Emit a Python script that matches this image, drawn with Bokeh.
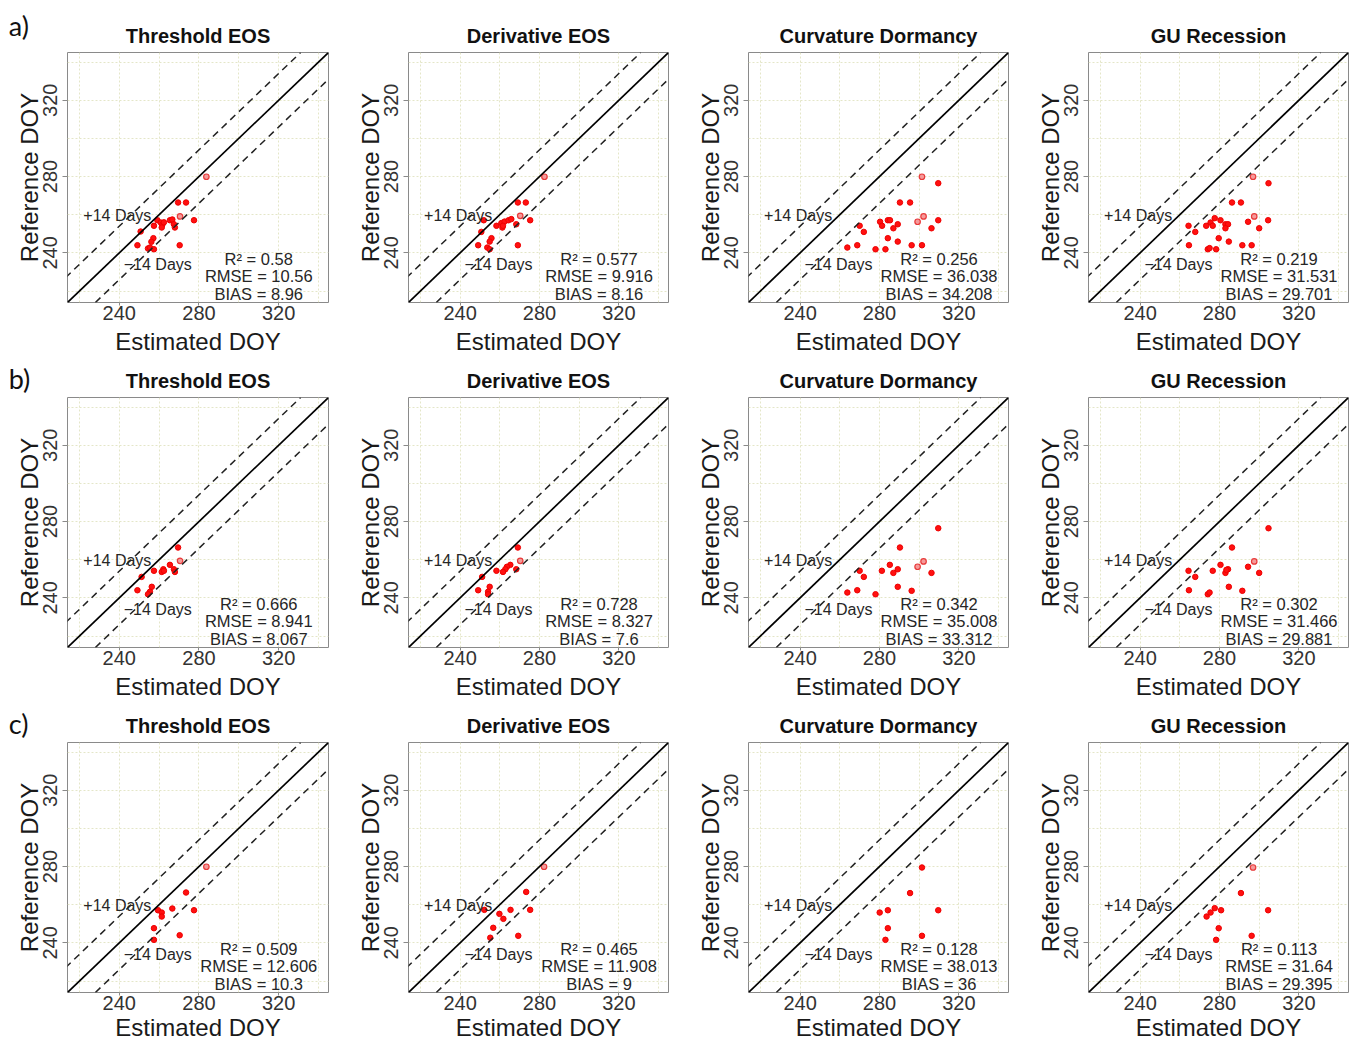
from bokeh.plotting import figure
from bokeh.layouts import gridplot
from bokeh.models import Label, Slope, FixedTicker, Range1d
from bokeh.embed import file_html
from bokeh.resources import INLINE

# ---------------- data ----------------
row_tags = ["a)", "b)", "c)"]
titles = ["Threshold EOS", "Derivative EOS", "Curvature Dormancy", "GU Recession"]
x_ticks = [240, 280, 320]
y_ticks = [240, 280, 320]
grid_ticks = [220, 240, 260, 280, 300, 320, 340]
axis_lo, axis_hi = 214, 345
offset_days = 14

# row a
est_a1 = [269.5, 273.5, 277.5, 259.1, 257.4, 260.8, 261.6, 261.3, 265.4, 266.6, 267.4, 267.9, 250.7, 257.1, 256.1, 249.1, 254.4, 255.4, 257.4, 270.3, 262.4]
ref_a1 = [266.4, 266.4, 257.1, 257.1, 254.2, 255.9, 254.7, 253.3, 257.1, 257.5, 255.0, 253.3, 251.2, 247.7, 245.8, 244.0, 242.3, 242.8, 241.9, 244.0, 256.0]
est_a1_open = [283.7, 270.5]
ref_a1_open = [279.9, 259.1]

est_a2 = [269.1, 273.1, 275.3, 251.9, 258.3, 260.8, 262.4, 264.4, 265.8, 268.3, 261.3, 250.7, 255.8, 254.9, 249.1, 253.7, 254.9, 269.1, 261.6]
ref_a2 = [266.4, 266.4, 257.1, 257.1, 254.2, 255.6, 256.4, 257.1, 257.7, 255.0, 253.3, 251.0, 247.7, 245.9, 244.0, 242.8, 241.9, 244.0, 254.2]
est_a2_open = [282.5, 270.3]
ref_a2_open = [279.9, 259.4]

est_a3 = [309.6, 290.3, 295.4, 309.6, 306.2, 270.0, 272.1, 280.3, 281.3, 284.2, 285.3, 289.2, 287.0, 284.2, 289.2, 263.8, 268.8, 278.0, 283.0, 296.2, 301.4]
ref_a3 = [276.5, 266.4, 266.4, 257.1, 252.9, 254.2, 251.0, 256.3, 254.2, 257.1, 257.1, 255.0, 252.9, 247.7, 245.9, 242.8, 244.0, 241.9, 241.9, 244.0, 244.0]
est_a3_open = [301.4, 302.2, 299.2]
ref_a3_open = [279.9, 259.1, 256.3]

est_a4 = [304.7, 286.3, 290.8, 294.4, 304.5, 300.0, 264.4, 267.8, 273.3, 275.5, 276.6, 277.6, 280.5, 283.0, 284.3, 283.0, 279.6, 284.7, 264.6, 274.1, 275.0, 278.3, 291.5, 296.2]
ref_a4 = [276.5, 266.4, 266.4, 256.3, 257.1, 252.9, 254.2, 251.0, 254.2, 255.9, 254.2, 258.2, 257.1, 255.0, 255.0, 252.9, 247.7, 245.9, 244.0, 241.9, 242.5, 241.9, 244.0, 244.0]
est_a4_open = [296.9, 297.5]
ref_a4_open = [279.9, 259.1]

# row b
est_b1 = [269.5, 265.4, 267.4, 267.9, 262.1, 261.3, 262.4, 257.4, 251.2, 249.1, 256.3, 255.4, 254.4]
ref_b1 = [266.4, 257.3, 255.0, 253.6, 255.0, 253.6, 254.2, 254.2, 251.0, 244.0, 245.8, 243.2, 241.9]
est_b1_open = [270.5]
ref_b1_open = [259.4]

est_b2 = [269.1, 265.3, 263.6, 262.8, 261.6, 258.3, 268.3, 251.1, 249.1, 254.9, 254.1, 254.1]
ref_b2 = [266.4, 257.3, 256.3, 255.0, 253.6, 254.2, 255.0, 251.0, 244.0, 245.8, 243.2, 241.9]
est_b2_open = [270.3]
ref_b2_open = [259.4]

est_b3 = [309.6, 290.3, 306.2, 285.2, 289.2, 287.0, 281.2, 270.0, 272.1, 289.2, 296.2, 263.8, 268.8, 278.0]
ref_b3 = [276.5, 266.4, 253.1, 257.3, 255.0, 253.1, 254.2, 254.2, 251.0, 245.8, 243.7, 242.8, 244.0, 241.9]
est_b3_open = [302.2, 299.2]
ref_b3_open = [259.1, 256.3]

est_b4 = [304.7, 286.3, 294.4, 300.0, 280.5, 284.3, 283.0, 276.6, 264.4, 267.8, 284.7, 291.5, 264.6, 274.1, 275.0, 283.5]
ref_b4 = [276.5, 266.4, 256.3, 253.1, 257.3, 255.0, 253.1, 254.2, 254.2, 251.0, 245.8, 243.7, 244.0, 241.9, 242.8, 254.7]
est_b4_open = [297.5]
ref_b4_open = [259.1]

# row c
est_c1 = [273.5, 277.5, 259.4, 261.3, 261.3, 266.6, 257.4, 257.4, 270.3]
ref_c1 = [266.4, 257.1, 257.1, 255.9, 253.8, 258.0, 247.7, 241.6, 244.0]
est_c1_open = [283.7]
ref_c1_open = [279.9]

est_c2 = [273.3, 275.3, 265.4, 259.8, 261.8, 252.2, 256.7, 255.2, 269.3]
ref_c2 = [266.7, 257.3, 257.3, 255.2, 252.6, 257.3, 247.9, 242.7, 243.7]
est_c2_open = [282.3]
ref_c2_open = [279.9]

est_c3 = [301.4, 295.4, 309.6, 280.1, 284.2, 284.2, 283.0, 301.4]
ref_c3 = [279.5, 266.1, 257.1, 255.9, 257.1, 247.7, 241.6, 243.7]
est_c3_open = []
ref_c3_open = []

est_c4 = [290.8, 304.5, 273.5, 275.5, 277.6, 280.8, 279.6, 278.3, 296.2]
ref_c4 = [266.1, 257.1, 253.8, 255.9, 258.2, 257.1, 247.7, 241.6, 243.7]
est_c4_open = [296.9]
ref_c4_open = [279.5]

r2_vals = [["0.58", "0.577", "0.256", "0.219"],
           ["0.666", "0.728", "0.342", "0.302"],
           ["0.509", "0.465", "0.128", "0.113"]]
rmse_vals = [["10.56", "9.916", "36.038", "31.531"],
             ["8.941", "8.327", "35.008", "31.466"],
             ["12.606", "11.908", "38.013", "31.64"]]
bias_vals = [["8.96", "8.16", "34.208", "29.701"],
             ["8.067", "7.6", "33.312", "29.881"],
             ["10.3", "9", "36", "29.395"]]

panels = [
    [(est_a1, ref_a1, est_a1_open, ref_a1_open), (est_a2, ref_a2, est_a2_open, ref_a2_open),
     (est_a3, ref_a3, est_a3_open, ref_a3_open), (est_a4, ref_a4, est_a4_open, ref_a4_open)],
    [(est_b1, ref_b1, est_b1_open, ref_b1_open), (est_b2, ref_b2, est_b2_open, ref_b2_open),
     (est_b3, ref_b3, est_b3_open, ref_b3_open), (est_b4, ref_b4, est_b4_open, ref_b4_open)],
    [(est_c1, ref_c1, est_c1_open, ref_c1_open), (est_c2, ref_c2, est_c2_open, ref_c2_open),
     (est_c3, ref_c3, est_c3_open, ref_c3_open), (est_c4, ref_c4, est_c4_open, ref_c4_open)],
]

# ---------------- styling ----------------
FONT = "Liberation Sans"
TXT = "#262626"
TOPS = [52, 40, 40]
BOTTOMS = [55, 55, 51]
XLABEL_STANDOFF = [5, 5, 1]
LEFTS = [67, 54, 54, 54]
RIGHTS = [25, 25, 25, 4]
TAG_Y = [359.3, 354.8, 354.8]


def make_panel(r, c):
    est, ref, est_o, ref_o = panels[r][c]
    top, bottom = TOPS[r], BOTTOMS[r]
    left, right = LEFTS[c], RIGHTS[c]
    p = figure(width=left + 261 + right, height=top + 250 + bottom,
               x_range=Range1d(axis_lo, axis_hi), y_range=Range1d(axis_lo, axis_hi),
               output_backend="svg", toolbar_location=None,
               min_border_left=left, min_border_right=right,
               min_border_top=top, min_border_bottom=bottom)
    p.title.text = titles[c]
    p.title.align = "center"
    p.title.text_font = FONT
    p.title.text_font_size = "20px"
    p.title.text_font_style = "bold"
    p.title.text_color = "#111111"
    p.title.standoff = 11

    p.outline_line_color = "#8a8a8a"
    p.outline_line_width = 1
    p.background_fill_color = "white"
    p.border_fill_color = "white"

    for g in (p.xgrid, p.ygrid):
        g.ticker = FixedTicker(ticks=grid_ticks)
        g.grid_line_color = "#e4e6c8"
        g.grid_line_dash = "2 2"
        g.grid_line_width = 1

    p.xaxis.ticker = FixedTicker(ticks=x_ticks)
    p.yaxis.ticker = FixedTicker(ticks=y_ticks)
    for ax in (p.xaxis[0], p.yaxis[0]):
        ax.axis_line_color = None
        ax.major_tick_line_color = "#8a8a8a"
        ax.minor_tick_line_color = None
        ax.major_tick_in = 0
        ax.major_label_text_font = FONT
        ax.major_label_text_font_size = "20px"
        ax.major_label_text_color = "#333333"
        ax.axis_label_text_font = FONT
        ax.axis_label_text_font_size = "24px"
        ax.axis_label_text_font_style = "normal"
        ax.axis_label_text_color = "#1a1a1a"
    p.xaxis.axis_label = "Estimated DOY"
    p.yaxis.axis_label = "Reference DOY"
    p.xaxis.major_tick_out = 3
    p.xaxis.major_label_standoff = 0
    p.xaxis.axis_label_standoff = XLABEL_STANDOFF[r]
    p.yaxis.major_tick_out = 5
    p.yaxis.major_label_standoff = 5
    p.yaxis.axis_label_standoff = -2
    p.yaxis.major_label_orientation = "vertical"

    p.add_layout(Slope(gradient=1, y_intercept=0, line_color="black", line_width=1.7))
    p.add_layout(Slope(gradient=1, y_intercept=offset_days, line_color="#222222",
                       line_width=1.5, line_dash="7 5"))
    p.add_layout(Slope(gradient=1, y_intercept=-offset_days, line_color="#222222",
                       line_width=1.5, line_dash="7 5"))

    p.scatter(est, ref, size=5.5, fill_color="#ff1010", line_color="#ee0000")
    if est_o:
        p.scatter(est_o, ref_o, size=5.5, fill_color="#f59a9a", line_color="#e83a3a", line_width=1.2)

    p.add_layout(Label(x=239, y=259.4, text="+14 Days", text_align="center", text_baseline="middle",
                       text_font=FONT, text_font_size="16px", text_color=TXT))
    p.add_layout(Label(x=259.3, y=234.1, text="\u221214 Days", text_align="center", text_baseline="middle",
                       text_font=FONT, text_font_size="16px", text_color=TXT))
    stats = ["R\u00b2 = " + r2_vals[r][c], "RMSE = " + rmse_vals[r][c], "BIAS = " + bias_vals[r][c]]
    for txt, yy in zip(stats, [237.0, 228.0, 218.5]):
        p.add_layout(Label(x=310, y=yy, text=txt, text_align="center", text_baseline="middle",
                           text_font=FONT, text_font_size="16.5px", text_color=TXT))
    if c == 0:
        tag = Label(x=184.5, y=TAG_Y[r], text=row_tags[r], text_align="left",
                    text_baseline="alphabetic", text_font="Lato", text_font_size="27px",
                    text_color="#111111")
        p.add_layout(tag, "right")
    return p


grid = [[make_panel(r, c) for c in range(4)] for r in range(3)]
layout = gridplot(grid, toolbar_location=None)

open("out.html", "w").write(file_html(layout, INLINE))
